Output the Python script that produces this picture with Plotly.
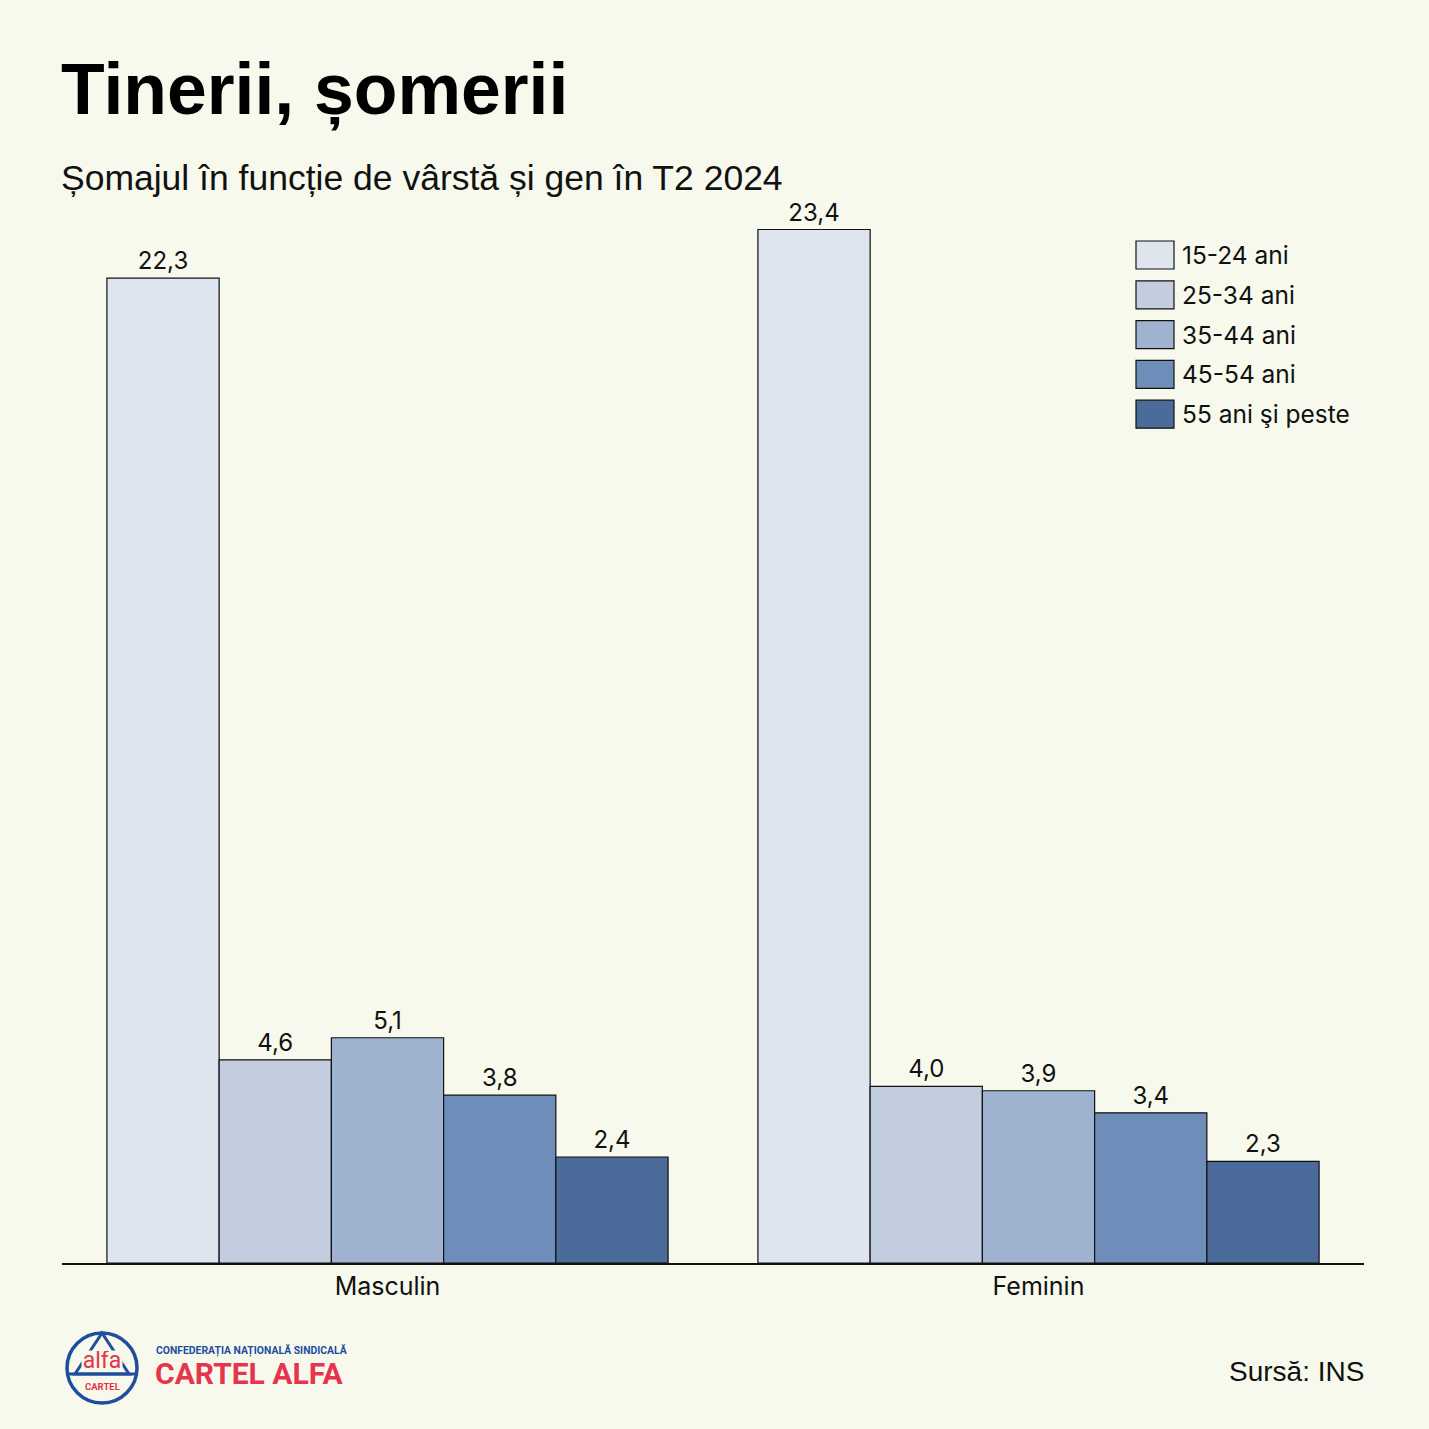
import plotly.graph_objects as go

categories = ["Masculin", "Feminin"]
series_names = ["15-24 ani", "25-34 ani", "35-44 ani", "45-54 ani", "55 ani şi peste"]
values = {
    "15-24 ani": [22.3, 23.4],
    "25-34 ani": [4.6, 4.0],
    "35-44 ani": [5.1, 3.9],
    "45-54 ani": [3.8, 3.4],
    "55 ani şi peste": [2.4, 2.3],
}
colors = ["#dfe5ef", "#c2cde0", "#9fb2cf", "#6e8db9", "#4b6b9a"]

W, H = 1429, 1429
L, R, T, B = 62, 65, 203, 166
PW, PH = W - L - R, H - T - B

def px(x):
    return (x - L) / PW

def py(y):
    return (H - B - y) / PH

BG = "#f6f9ec"
RED = "#e6344d"
BLUE = "#1f4e9e"
LABEL_FONT = "Inter, Roboto, sans-serif"
HEAD_FONT = "Liberation Sans, Arial, sans-serif"

fig = go.Figure()
for name, col in zip(series_names, colors):
    vals = values[name]
    fig.add_trace(go.Bar(
        x=categories, y=vals, name=name,
        marker=dict(color=col, line=dict(color="#111111", width=1.2)),
        text=[f"{v:.1f}".replace(".", ",") for v in vals],
        textposition="outside", cliponaxis=False,
        textfont=dict(family=LABEL_FONT, size=24, color="#111111"),
        showlegend=False, hoverinfo="skip",
    ))

shapes = []
annotations = []

# custom legend
leg_y0 = 255
for i, (name, col) in enumerate(zip(series_names, colors)):
    cy = leg_y0 + i * 39.8
    shapes.append(dict(type="rect", xref="paper", yref="paper",
                       x0=px(1136), x1=px(1174), y0=py(cy + 14), y1=py(cy - 14),
                       fillcolor=col, line=dict(color="#111111", width=1.2)))
    annotations.append(dict(text=name, xref="paper", yref="paper",
                            x=px(1180), y=py(cy), xanchor="left", yanchor="middle",
                            showarrow=False,
                            font=dict(family=LABEL_FONT, size=24.5, color="#111111")))

# title and subtitle
annotations.append(dict(text="<b>Tinerii, șomerii</b>", xref="paper", yref="paper",
                        x=px(59), y=py(90), xanchor="left", yanchor="middle",
                        showarrow=False,
                        font=dict(family=HEAD_FONT, size=71.5, color="#000000")))
annotations.append(dict(text="Șomajul în funcție de vârstă și gen în T2 2024", xref="paper", yref="paper",
                        x=px(59), y=py(178), xanchor="left", yanchor="middle",
                        showarrow=False,
                        font=dict(family=HEAD_FONT, size=35.5, color="#111111")))

# source
annotations.append(dict(text="Sursă: INS", xref="paper", yref="paper",
                        x=px(1366), y=py(1371), xanchor="right", yanchor="middle",
                        showarrow=False,
                        font=dict(family=HEAD_FONT, size=28, color="#111111")))

# logo
cx, cy, r = 102, 1368, 35
shapes.append(dict(type="circle", xref="paper", yref="paper",
                   x0=px(cx - r), x1=px(cx + r), y0=py(cy + r), y1=py(cy - r),
                   line=dict(color=BLUE, width=3.5)))
shapes.append(dict(type="path", xref="paper", yref="paper",
                   path=f"M {px(cx)} {py(cy - r)} L {px(cx - 27)} {py(1374)} L {px(cx + 27)} {py(1374)} Z",
                   line=dict(color=BLUE, width=3), fillcolor="rgba(0,0,0,0)"))
shapes.append(dict(type="line", xref="paper", yref="paper",
                   x0=px(cx - 33), x1=px(cx + 33), y0=py(1374), y1=py(1374),
                   line=dict(color=BLUE, width=3)))
annotations.append(dict(text="alfa", xref="paper", yref="paper",
                        x=px(cx), y=py(1360), xanchor="center", yanchor="middle", showarrow=False,
                        bgcolor=BG, borderpad=0, width=40, height=18,
                        font=dict(family="Roboto, Arial, sans-serif", size=23, color=RED)))
annotations.append(dict(text="<b>CARTEL</b>", xref="paper", yref="paper",
                        x=px(cx), y=py(1386), xanchor="center", yanchor="middle", showarrow=False,
                        font=dict(family="Roboto, Arial, sans-serif", size=9.5, color=RED)))
annotations.append(dict(text="<b>CONFEDERAȚIA NAȚIONALĂ SINDICALĂ</b>", xref="paper", yref="paper",
                        x=px(154), y=py(1350), xanchor="left", yanchor="middle", showarrow=False,
                        font=dict(family="Roboto, Arial, sans-serif", size=10.4, color=BLUE)))
annotations.append(dict(text="<b>CARTEL ALFA</b>", xref="paper", yref="paper",
                        x=px(153), y=py(1373), xanchor="left", yanchor="middle", showarrow=False,
                        font=dict(family="Roboto, Arial, sans-serif", size=30, color=RED)))

fig.update_layout(
    width=W, height=H,
    margin=dict(l=L, r=R, t=T, b=B, autoexpand=False),
    paper_bgcolor=BG, plot_bgcolor=BG,
    barmode="group", bargap=0.138, bargroupgap=0,
    xaxis=dict(showline=True, linecolor="#111111", linewidth=1.5, ticks="",
               showgrid=False, zeroline=False,
               tickfont=dict(family=LABEL_FONT, size=25, color="#111111")),
    yaxis=dict(range=[0, 24], visible=False, showgrid=False, zeroline=False),
    shapes=shapes, annotations=annotations,
    showlegend=False,
)

fig.write_html(
    "out.html",
    config={"displayModeBar": False},
    post_script="document.body.style.margin='0';document.body.style.background='" + BG + "';document.body.style.overflow='hidden';",
)
